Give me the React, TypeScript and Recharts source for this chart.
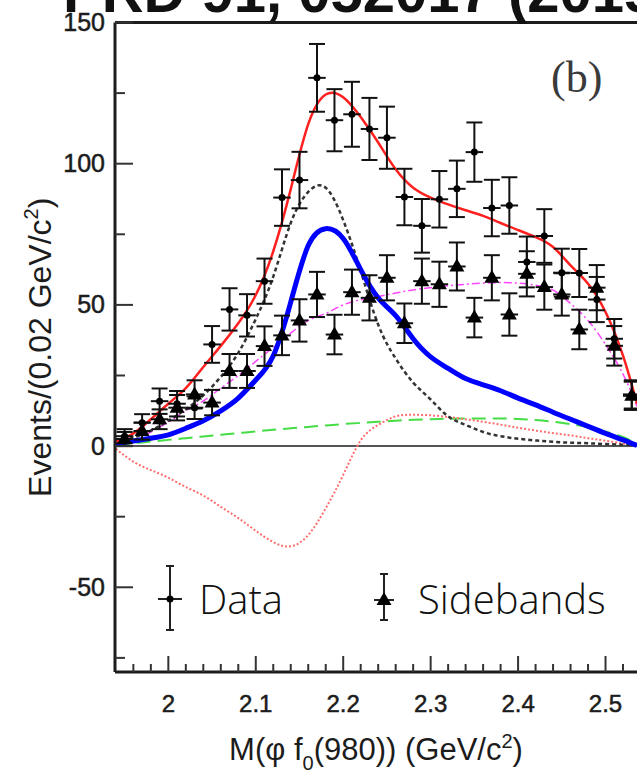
import React from "react";
import {
  ComposedChart,
  Line,
  Scatter,
  ErrorBar,
  XAxis,
  YAxis,
  ReferenceLine,
} from "recharts";

// 0.02 GeV/c^2 bins
const binCenters = [
  1.95, 1.97, 1.99, 2.01, 2.03, 2.05, 2.07, 2.09, 2.11, 2.13, 2.15, 2.17, 2.19,
  2.21, 2.23, 2.25, 2.27, 2.29, 2.31, 2.33, 2.35, 2.37, 2.39, 2.41, 2.43, 2.45,
  2.47, 2.49, 2.51, 2.53,
];
const dataCounts = [
  3.5, 8.3, 15.9, 15, 13.6, 36, 48.4, 46.3, 58.4, 88, 94.2, 130.4, 115.4, 117.5,
  112.3, 109.2, 88.2, 78, 87.4, 91.1, 104.1, 84.3, 85.2, 65.2, 74.4, 61.4, 61.3,
  51.9, 38, 18.3,
];
const dataErrors = [
  2.5, 3, 4.5, 4.5, 4, 6.5, 7.5, 7.5, 8, 10, 10, 12, 11, 11.5, 11, 11, 10, 9.5,
  10, 10, 10.5, 10, 10, 9, 9.5, 8.5, 8.5, 8, 7, 5,
];
const sidebandCounts = [
  2.5, 5.3, 9.5, 13.6, 18.3, 15.4, 26.6, 26.6, 35.4, 39.2, 44.5, 53.7, 39.5,
  54.5, 52.5, 59.6, 43.5, 58.4, 57.3, 63.6, 45.5, 59.6, 46.6, 61, 56.3, 53.7,
  41.3, 56.1, 35.5, 17.8,
];
const sidebandErrors = [
  2.5, 3, 3.5, 4.5, 5, 4.5, 6, 6, 7, 7, 7.5, 8, 7, 8, 8, 8, 7, 8, 8, 8.5, 7, 8,
  7.5, 8, 8, 7.5, 7, 8, 7, 5,
];

// fit components sampled on a common mass grid
const curveX = [
  1.94, 1.96, 1.98, 2.0, 2.02, 2.04, 2.06, 2.08, 2.1, 2.12, 2.14, 2.16, 2.18,
  2.2, 2.22, 2.24, 2.26, 2.28, 2.3, 2.32, 2.34, 2.36, 2.38, 2.4, 2.42, 2.44,
  2.46, 2.48, 2.5, 2.52, 2.536,
];
const totalFit = [
  1.5, 4.5, 9.5, 15, 20.5, 28, 35.5, 43.5, 53.5, 69, 91, 114, 124.5, 123.5,
  116.5, 107.5, 98, 91.5, 88, 85.6, 83.5, 81.5, 79, 76.5, 74, 70.5, 64, 57.5,
  47.5, 32, 15,
];
const resonance = [
  1.5, 3, 5.5, 9, 13, 18, 24.5, 33, 45, 60, 79, 90, 91.5, 80, 62, 43, 31, 22.5,
  16.5, 10.5, 7.5, 5, 3.5, 2.6, 2, 1.5, 1.2, 1, 0.7, 0.5, 0.3,
];
const signal = [
  0.8, 1.8, 2.8, 4, 6.3, 9, 12.5, 17, 23.4, 32, 51, 71, 77, 73.5, 62.5, 52.5,
  46.2, 38, 31.6, 27.5, 23.9, 21.7, 19.6, 17, 14.6, 12, 9.5, 7, 4.5, 2.2, 0.2,
];
const sidebandShape = [
  0, 2, 5, 8.5, 12.5, 16, 20.5, 25, 30, 35, 40, 44.5, 47, 50, 51.8, 53, 54.2,
  55.3, 56.1, 56.8, 57.3, 57.7, 57.9, 57.7, 57, 55.2, 50.5, 44.5, 36, 25.5, 14,
];
const nonResonant = [
  0.3, 1, 1.6, 2.2, 2.8, 3.4, 4, 4.6, 5.2, 5.8, 6.3, 6.8, 7.3, 7.8, 8.2, 8.6, 9,
  9.3, 9.5, 9.7, 9.8, 9.8, 9.8, 9.6, 9.2, 8.6, 7.8, 6.7, 5.2, 3.2, 1,
];
const interference = [
  -1, -5.5, -8.5, -11.2, -14.5, -17.5, -21.5, -25.5, -30, -34, -35.5, -31.5,
  -22, -10.2, 2, 7.5, 10.5, 11.1, 10.9, 10.3, 9.5, 8.6, 7.6, 6.5, 5.5, 4.6,
  3.8, 2.8, 1.9, 0.9, 0.2,
];

const xTicks = [
  1.96, 1.98, 2.0, 2.02, 2.04, 2.06, 2.08, 2.1, 2.12, 2.14, 2.16, 2.18, 2.2,
  2.22, 2.24, 2.26, 2.28, 2.3, 2.32, 2.34, 2.36, 2.38, 2.4, 2.42, 2.44, 2.46,
  2.48, 2.5, 2.52,
];
const xLabels = ["2", "2.1", "2.2", "2.3", "2.4", "2.5"];
const yTicks = [-75, -50, -25, 0, 25, 50, 75, 100, 125, 150];
const yLabels = ["-50", "0", "50", "100", "150"];

const FONT = "'Liberation Sans', Arial, Helvetica, sans-serif";
const LIGHT = "'Open Sans', sans-serif";
const AXIS = "#1c1c1c";

const points = (ys: number[], errs: number[]) =>
  binCenters.map((x, i) => ({ x, y: ys[i], ey: errs[i], ex: 0.01 }));
const curve = (ys: number[]) => curveX.map((x, i) => ({ x, y: ys[i] }));

// major ticks sit on whole tenths
const isTenth = (v: number) => Math.abs(v * 10 - Math.round(v * 10)) < 1e-6;

function XTick(props: any) {
  const { x, y, payload } = props;
  const v = payload.value as number;
  const major = isTenth(v);
  const label = String(Math.round(v * 10) / 10);
  return (
    <g>
      <line x1={x} x2={x} y1={y} y2={y - (major ? 16 : 8)} stroke="#333" strokeWidth={2} />
      {major && xLabels.includes(label) && (
        <text x={x} y={y + 40} textAnchor="middle" fontSize={24} fontFamily={FONT} fill={AXIS} stroke={AXIS} strokeWidth={0.5}>
          {label}
        </text>
      )}
    </g>
  );
}

function YTick(props: any) {
  const { x, y, payload } = props;
  const label = String(payload.value);
  const major = yLabels.includes(label);
  return (
    <g>
      <line x1={x} x2={x + (major ? 18 : 10)} y1={y} y2={y} stroke="#333" strokeWidth={2} />
      {major && (
        <text x={x - 10} y={y + 8.5} textAnchor="end" fontSize={25} fontFamily={FONT} fill={AXIS} stroke={AXIS} strokeWidth={0.5}>
          {label}
        </text>
      )}
    </g>
  );
}

function XTitle(props: any) {
  const { viewBox } = props;
  const cx = viewBox.x + viewBox.width / 2;
  return (
    <text x={cx} y={viewBox.y + 88} textAnchor="middle" fontSize={31} fontFamily={FONT} fill={AXIS}>
      M(φ f
      <tspan fontSize={20} dy={10}>0</tspan>
      <tspan dy={-10}>(980)) (GeV/c</tspan>
      <tspan fontSize={20} dy={-12}>2</tspan>
      <tspan dy={12}>)</tspan>
    </text>
  );
}

function YTitle(props: any) {
  const { viewBox } = props;
  const cy = viewBox.y + viewBox.height / 2;
  return (
    <text
      transform={`translate(51,${cy}) rotate(-90)`}
      textAnchor="middle"
      fontSize={32}
      fontFamily={FONT}
      fill={AXIS}
    >
      Events/(0.02 GeV/c
      <tspan fontSize={20} dy={-13}>2</tspan>
      <tspan dy={13}>)</tspan>
    </text>
  );
}

const dotShape = (p: any) => <circle cx={p.cx} cy={p.cy} r={3.5} fill="#000" />;
const triangleShape = (p: any) => (
  <polygon
    points={`${p.cx},${p.cy - 8} ${p.cx - 7.5},${p.cy + 5} ${p.cx + 7.5},${p.cy + 5}`}
    fill="#000"
  />
);

export default function App() {
  return (
    <div
      style={{
        position: "fixed",
        left: 0,
        top: 0,
        width: 637,
        height: 771,
        overflow: "hidden",
        background: "#fff",
      }}
    >
      <ComposedChart
        width={637}
        height={771}
        margin={{ top: 22.5, right: 0, bottom: 0, left: 0 }}
      >
        <XAxis
          type="number"
          dataKey="x"
          domain={[1.939, 2.536]}
          ticks={xTicks}
          interval={0}
          height={99}
          tickSize={0}
          tickMargin={0}
          tickLine={false}
          tick={<XTick />}
          axisLine={{ stroke: AXIS, strokeWidth: 3 }}
          label={<XTitle />}
          allowDataOverflow
        />
        <YAxis
          type="number"
          domain={[-80, 150]}
          ticks={yTicks}
          interval={0}
          width={115}
          tickSize={0}
          tickMargin={0}
          tickLine={false}
          tick={<YTick />}
          axisLine={{ stroke: AXIS, strokeWidth: 3 }}
          label={<YTitle />}
          allowDataOverflow
        />
        <ReferenceLine y={0} stroke="#555" strokeWidth={2} />
        <ReferenceLine y={150} stroke={AXIS} strokeWidth={3} />

        <Line data={curve(nonResonant)} dataKey="y" type="natural" stroke="#44dd44" strokeWidth={2} strokeDasharray="14 7" dot={false} activeDot={false} legendType="none" isAnimationActive={false} />
        <Line data={curve(interference)} dataKey="y" type="natural" stroke="#ff6f6f" strokeWidth={2} strokeDasharray="2 2" dot={false} activeDot={false} legendType="none" isAnimationActive={false} />
        <Line data={curve(sidebandShape)} dataKey="y" type="natural" stroke="#ff44ff" strokeWidth={1.5} strokeDasharray="8 3 2 3" dot={false} activeDot={false} legendType="none" isAnimationActive={false} />
        <Line data={curve(resonance)} dataKey="y" type="natural" stroke="#333" strokeWidth={2.5} strokeDasharray="4 3" dot={false} activeDot={false} legendType="none" isAnimationActive={false} />
        <Line data={curve(signal)} dataKey="y" type="natural" stroke="#0000ff" strokeWidth={5} dot={false} activeDot={false} legendType="none" isAnimationActive={false} />
        <Line data={curve(totalFit)} dataKey="y" type="natural" stroke="#ff2020" strokeWidth={2.5} dot={false} activeDot={false} legendType="none" isAnimationActive={false} />

        <Scatter name="Sidebands" data={points(sidebandCounts, sidebandErrors)} dataKey="y" shape={triangleShape} isAnimationActive={false}>
          <ErrorBar dataKey="ey" direction="y" width={8} stroke="#111" strokeWidth={2} isAnimationActive={false} />
          <ErrorBar dataKey="ex" direction="x" width={0} stroke="#111" strokeWidth={2} isAnimationActive={false} />
        </Scatter>
        <Scatter name="Data" data={points(dataCounts, dataErrors)} dataKey="y" shape={dotShape} isAnimationActive={false}>
          <ErrorBar dataKey="ey" direction="y" width={8} stroke="#111" strokeWidth={2} isAnimationActive={false} />
          <ErrorBar dataKey="ex" direction="x" width={0} stroke="#111" strokeWidth={2} isAnimationActive={false} />
        </Scatter>
      </ComposedChart>

      <svg
        width={637}
        height={771}
        style={{ position: "absolute", left: 0, top: 0, pointerEvents: "none" }}
      >
        <text x={63} y={12} fontSize={58} fontWeight={700} fontFamily={FONT} fill="#111">
          PRD 91, 052017 (2015)
        </text>
        <text x={551} y={92} fontSize={44} fontFamily="'Liberation Serif', 'Times New Roman', serif" fill="#3a3a3a">
          (b)
        </text>

        {/* legend */}
        <g stroke="#222" strokeWidth={2}>
          <line x1={170} x2={170} y1={566} y2={630} />
          <line x1={166} x2={174} y1={566} y2={566} />
          <line x1={166} x2={174} y1={630} y2={630} />
          <line x1={158} x2={182} y1={599} y2={599} />
          <line x1={384} x2={384} y1={574} y2={620} />
          <line x1={380} x2={388} y1={574} y2={574} />
          <line x1={380} x2={388} y1={620} y2={620} />
          <line x1={374} x2={394} y1={600} y2={600} />
        </g>
        <circle cx={170} cy={599} r={3.5} fill="#000" />
        <polygon points="384,592 376.5,605 391.5,605" fill="#000" />
        <text x={199} y={614} fontSize={40} fontWeight={300} fontFamily={LIGHT} fill="#111">
          Data
        </text>
        <text x={418} y={614} fontSize={40} fontWeight={300} fontFamily={LIGHT} fill="#111">
          Sidebands
        </text>
      </svg>
    </div>
  );
}
